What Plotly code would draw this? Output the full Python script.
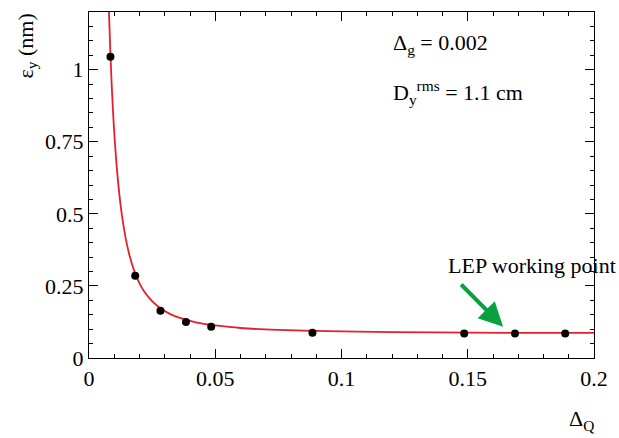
import plotly.graph_objects as go

# measured points
dq = [0.0085, 0.0183, 0.0283, 0.0384, 0.0484, 0.0885, 0.1486, 0.1687, 0.1886]
eps = [1.045, 0.285, 0.164, 0.125, 0.108, 0.088, 0.085, 0.085, 0.085]

fit_x = [0.0079, 0.0085, 0.009, 0.0095, 0.010, 0.011, 0.012, 0.013, 0.014, 0.015,
         0.016, 0.018, 0.020, 0.022, 0.025, 0.028, 0.032, 0.036, 0.040, 0.045,
         0.050, 0.060, 0.070, 0.085, 0.100, 0.120, 0.150, 0.175, 0.200]
fit_y = [1.202, 1.050, 0.945, 0.857, 0.782, 0.661, 0.569, 0.497, 0.441, 0.395,
         0.357, 0.300, 0.259, 0.229, 0.197, 0.174, 0.153, 0.139, 0.129, 0.119,
         0.113, 0.104, 0.099, 0.095, 0.092, 0.090, 0.088, 0.087, 0.087]

x_ticks = [0, 0.05, 0.1, 0.15, 0.2]
x_labels = ["0", "0.05", "0.1", "0.15", "0.2"]
y_ticks = [0, 0.25, 0.5, 0.75, 1]
y_labels = ["0", "0.25", "0.5", "0.75", "1"]

FONT = "'Times New Roman', 'Liberation Serif', 'DejaVu Serif', serif"
FS = 22

fig = go.Figure()
fig.add_trace(go.Scatter(x=fit_x, y=fit_y, mode="lines",
                         line=dict(color="#e3202b", width=1.8, shape="spline"),
                         showlegend=False, hoverinfo="skip"))
fig.add_trace(go.Scatter(x=dq, y=eps, mode="markers",
                         marker=dict(color="black", size=8),
                         showlegend=False))

axis_common = dict(
    showgrid=False, zeroline=False, showline=True, linecolor="black", linewidth=1.2,
    mirror="allticks", ticks="inside", tickcolor="black", tickwidth=1.2,
    tickfont=dict(family=FONT, size=FS, color="black"),
)

fig.update_xaxes(range=[0, 0.2], tickvals=x_ticks, ticktext=x_labels, ticklen=9,
                 minor=dict(dtick=0.01, tick0=0, ticklen=4, ticks="inside",
                            tickcolor="black", tickwidth=1.2),
                 **axis_common)
fig.update_yaxes(range=[0, 1.2], tickvals=y_ticks, ticktext=y_labels, ticklen=9,
                 minor=dict(dtick=0.05, tick0=0, ticklen=4, ticks="inside",
                            tickcolor="black", tickwidth=1.2),
                 **axis_common)

anns = [
    dict(text="Δ<sub>g</sub> = 0.002", x=391, y=44, xanchor="left"),
    dict(text="D<sub>y</sub><sup>rms</sup> = 1.1 cm", x=391, y=92, xanchor="left"),
    dict(text="Δ<sub>Q</sub>", x=596, y=420, xanchor="right"),
]
for a in anns:
    fig.add_annotation(text=a["text"], xref="paper", yref="paper",
                       x=(a["x"] - 89) / (594 - 89), y=(358 - a["y"]) / (358 - 12),
                       xanchor=a["xanchor"], yanchor="middle", showarrow=False,
                       font=dict(family=FONT, size=FS, color="black"))

# y axis title
fig.add_annotation(text="ε<sub>y</sub> (nm)", xref="paper", yref="paper",
                   x=(26 - 89) / (594 - 89), y=1.0, xanchor="center", yanchor="top",
                   textangle=-90, showarrow=False,
                   font=dict(family=FONT, size=FS, color="black"))

# LEP working point label
fig.add_annotation(text="LEP working point", x=0.1755, y=0.322, xref="x", yref="y",
                   showarrow=False, xanchor="center", yanchor="middle",
                   font=dict(family=FONT, size=FS, color="black"))
# arrow
fig.add_annotation(x=0.1640, y=0.108, ax=0.1468, ay=0.26, xref="x", yref="y",
                   axref="x", ayref="y", text="", showarrow=True,
                   arrowhead=2, arrowsize=1.2, arrowwidth=4, arrowcolor="#0aa040")

fig.update_layout(width=619, height=438, margin=dict(l=89, r=25, t=12, b=80),
                  paper_bgcolor="white", plot_bgcolor="white",
                  font=dict(family=FONT, size=FS, color="black"))

fig.write_html("out.html")
